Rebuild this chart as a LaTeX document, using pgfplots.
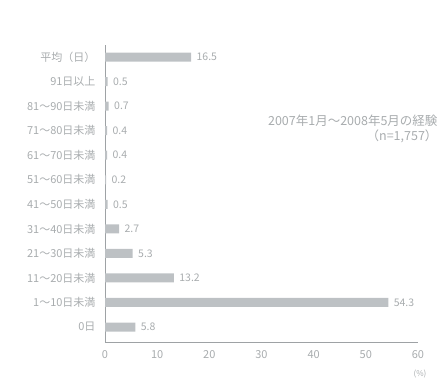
\documentclass[border=0pt]{standalone}
\usepackage{pgfplots}
\pgfplotsset{compat=1.18}
\usepackage{fontspec}
\setmainfont{Noto Sans CJK JP}
\definecolor{bargray}{HTML}{BDC1C4}
\definecolor{txtgray}{HTML}{A8ACAE}
\definecolor{axgray}{HTML}{9EA2A5}
\begin{document}
\begin{tikzpicture}[x=1pt,y=1pt]
\path[use as bounding box] (0,0) rectangle (441,378);
\begin{axis}[
  at={(105pt,36pt)}, anchor=south west,
  scale only axis, width=313pt, height=297pt,
  xbar, bar width=9pt,
  xmin=0, xmax=60, ymin=-0.61, ymax=11.49,
  axis x line*=bottom, axis y line*=left,
  axis line style={axgray, line width=0.8pt},
  xtick={0,10,...,60},
  ytick={0,...,11},
  yticklabels={0日,1〜10日未満,11〜20日未満,21〜30日未満,31〜40日未満,41〜50日未満,51〜60日未満,61〜70日未満,71〜80日未満,81〜90日未満,91日以上,平均（日）},
  major tick length=0pt,
  tick label style={font=\fontsize{11}{13}\selectfont, text=txtgray},
  xticklabel style={yshift=-5pt},
  yticklabel style={xshift=-6pt},
  /pgf/number format/assume math mode=true,
  nodes near coords,
  nodes near coords style={font=\fontsize{10.5}{12}\selectfont, text=txtgray, anchor=west, xshift=2pt},
  point meta=explicit symbolic,
  clip=false,
]
\addplot[fill=bargray, draw=none] coordinates {
 (5.8,0) [5.8]
 (54.3,1) [54.3]
 (13.2,2) [13.2]
 (5.3,3) [5.3]
 (2.7,4) [2.7]
 (0.5,5) [0.5]
 (0.2,6) [0.2]
 (0.4,7) [0.4]
 (0.4,8) [0.4]
 (0.7,9) [0.7]
 (0.5,10) [0.5]
 (16.5,11) [16.5]
};
\end{axis}
\node[anchor=east, font=\fontsize{12.5}{15}\selectfont, text=txtgray, align=right] at (441,249) {2007年1月〜2008年5月の経験\\（n=1,757）};
\node[anchor=north, font=\fontsize{8}{9}\selectfont, text=txtgray] at (420,12) {(\%)};
\end{tikzpicture}
\end{document}
